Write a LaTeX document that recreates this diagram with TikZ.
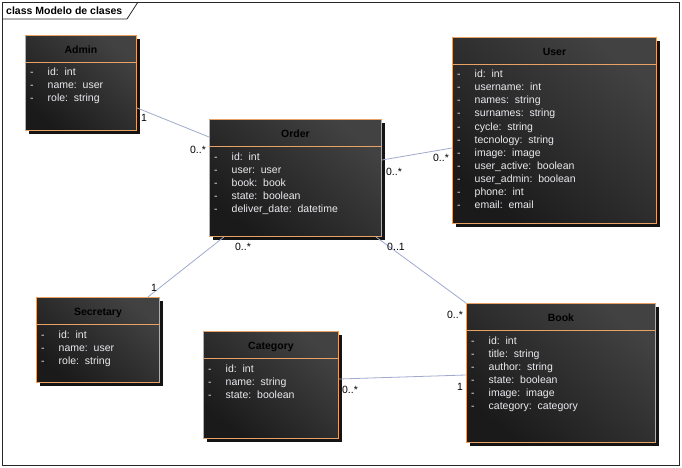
\documentclass[tikz,border=0pt]{standalone}
\usepackage{fontspec}
\setmainfont{Liberation Sans}
\usetikzlibrary{shadows}

\definecolor{edgeorange}{RGB}{232,162,100}
\definecolor{linkblue}{RGB}{160,170,205}
\definecolor{boxlight}{RGB}{66,66,66}
\definecolor{boxdark}{RGB}{26,26,26}
\definecolor{attrwhite}{RGB}{235,235,240}
\definecolor{framegray}{RGB}{40,40,40}

\tikzset{
  uml font/.style={font=\fontsize{10.5}{12}\selectfont},
  classbox/.style={draw=edgeorange, line width=0.9pt, inner sep=0pt,
    top color=boxlight, bottom color=boxdark, shading angle=-40,
    drop shadow={shadow xshift=4pt, shadow yshift=-4pt, opacity=1, fill=black!92}},
  divline/.style={draw=edgeorange, line width=0.9pt},
  classtitle/.style={font=\fontsize{10.5}{12}\selectfont\bfseries, text=black, inner sep=0pt, anchor=base},
  attrtext/.style={uml font, text=attrwhite, inner sep=0pt, anchor=base west},
  mult/.style={uml font, text=black, inner sep=0pt},
  assoc/.style={draw=linkblue, line width=0.8pt},
  framebox/.style={draw=framegray, line width=0.8pt},
}

% #1 name, #2 x, #3 y, #4 width, #5 height, #6 title, #7 attribute list
\newcommand\umlclass[7]{%
  \node[classbox, minimum width=#4pt, minimum height=#5pt, anchor=north west] (#1) at (#2,#3) {};
  \draw[divline] ([yshift=-27.5pt]#1.north west) -- ([yshift=-27.5pt]#1.north east);
  \node[classtitle] (#1-title) at ([yshift=-18.5pt]#1.north) {#6};
  \foreach \attr [count=\k] in {#7} {
    \node[attrtext] (#1-dash-\k) at ([xshift=5pt, yshift={-(28+\k*13)*1pt}]#1.north west) {-};
    \node[attrtext] (#1-attr-\k) at ([xshift=22.5pt, yshift={-(28+\k*13)*1pt}]#1.north west) {\attr};
  }%
}

\begin{document}
\begin{tikzpicture}[x=1pt, y=-1pt]
  \useasboundingbox (0,0) rectangle (682,468);
  \fill[white] (0,0) rectangle (682,468);

  % diagram frame with its name tab
  \draw[framebox] (2,2) rectangle (679,465);
  \draw[framebox] (2,19) -- (127,19) -- (138,2);
  \node[font=\fontsize{10.5}{12}\selectfont\bfseries, anchor=base west, inner sep=0pt] (frametitle) at (6,15) {class Modelo de clases};

  % classes
  \umlclass{admin}{25}{35}{111}{95}{Admin}{id:~~int, name:~~user, role:~~string}
  \umlclass{order}{209}{119}{172}{117}{Order}{id:~~int, user:~~user, book:~~book, state:~~boolean, deliver\_date:~~datetime}
  \umlclass{user}{452}{37}{204}{186}{User}{id:~~int, username:~~int, names:~~string, surnames:~~string, cycle:~~string, tecnology:~~string, image:~~image, user\_active:~~boolean, user\_admin:~~boolean, phone:~~int, email:~~email}
  \umlclass{secretary}{36}{297}{123}{85}{Secretary}{id:~~int, name:~~user, role:~~string}
  \umlclass{category}{203}{331}{135}{107}{Category}{id:~~int, name:~~string, state:~~boolean}
  \umlclass{book}{466}{303}{189}{139}{Book}{id:~~int, title:~~string, author:~~string, state:~~boolean, image:~~image, category:~~category}

  % associations
  \draw[assoc] ([yshift=23pt]admin.south east) -- ([yshift=-18pt]order.north west);
  \draw[assoc] ([yshift=-41pt]order.north east) -- ([yshift=-111pt]user.north west);
  \draw[assoc] ([xshift=15pt]order.south west) -- ([xshift=-12pt]secretary.north east);
  \draw[assoc] ([xshift=-6pt]order.south east) -- (book.north west);
  \draw[assoc] ([yshift=-48pt]category.north east) -- ([yshift=-72pt]book.north west);

  % multiplicities
  \node[mult] (m-admin) at (144,118) {1};
  \node[mult] (m-order-admin) at (198,150) {0..*};
  \node[mult] (m-order-user) at (394,172) {0..*};
  \node[mult] (m-user) at (441,158) {0..*};
  \node[mult] (m-order-sec) at (243,247) {0..*};
  \node[mult] (m-sec) at (154,288) {1};
  \node[mult] (m-order-book) at (396,247) {0..1};
  \node[mult] (m-book-order) at (455,315) {0..*};
  \node[mult] (m-cat) at (350,390) {0..*};
  \node[mult] (m-book-cat) at (460,387) {1};
\end{tikzpicture}
\end{document}
